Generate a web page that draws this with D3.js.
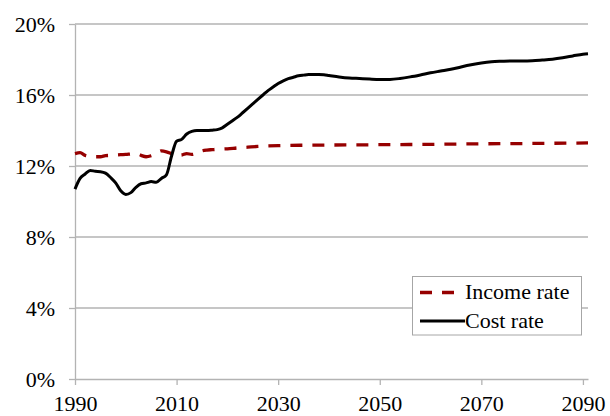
<!DOCTYPE html>
<html>
<head>
<meta charset="utf-8">
<script src="https://cdn.jsdelivr.net/npm/d3@7"></script>
<style>
  html, body { margin: 0; padding: 0; background: #fff; }
  svg { display: block; }
  svg text { font-family: "Liberation Serif", "Times New Roman", Tinos, Times, "Noto Serif", "DejaVu Serif", FreeSerif, serif !important; fill: #000; }
</style>
</head>
<body>
<svg id="chart" width="610" height="416"></svg>
<script>
// ---- Data ----
const costYears = [1990,1991,1992,1993,1994,1995,1996,1997,1998,1999,2000,2001,2002,2003,2004,2005,2006,2007,2008,2009,2010,2011,2012,2013,2014,2015,2016,2017,2018,2019,2020,2021,2022,2023,2024,2025,2026,2027,2028,2029,2030,2031,2032,2033,2034,2035,2036,2037,2038,2039,2040,2042,2044,2046,2048,2050,2052,2054,2056,2058,2060,2062,2064,2066,2068,2070,2072,2074,2076,2078,2080,2082,2084,2086,2088,2090,2091];
const costRate = [10.7,11.3,11.55,11.75,11.7,11.68,11.6,11.35,11.05,10.6,10.4,10.5,10.8,11.0,11.05,11.12,11.08,11.3,11.5,12.55,13.4,13.5,13.8,13.95,14.0,14.0,14.0,14.02,14.05,14.15,14.35,14.55,14.75,15.0,15.25,15.5,15.75,16.0,16.25,16.45,16.65,16.8,16.92,17.0,17.08,17.12,17.15,17.15,17.15,17.14,17.1,17.02,16.96,16.93,16.9,16.88,16.88,16.93,17.02,17.13,17.25,17.35,17.45,17.58,17.7,17.8,17.87,17.9,17.92,17.92,17.93,17.97,18.02,18.1,18.2,18.3,18.33];

const incomeYears = [1990,1991,1992,1993,1994,1995,1996,1997,1998,1999,2000,2001,2002,2003,2004,2005,2006,2007,2008,2009,2010,2011,2012,2013,2014,2015,2016,2017,2018,2020,2022,2024,2026,2028,2030,2035,2040,2050,2060,2070,2080,2091];
const incomeRate = [12.7,12.75,12.6,12.55,12.52,12.52,12.58,12.6,12.62,12.64,12.65,12.68,12.7,12.6,12.52,12.58,12.7,12.85,12.8,12.7,12.6,12.62,12.7,12.65,12.72,12.85,12.9,12.92,12.94,12.97,13.02,13.06,13.1,13.13,13.15,13.17,13.18,13.2,13.22,13.25,13.27,13.3];

const xTicks = [1990,2010,2030,2050,2070,2090];
const yTicks = [0,4,8,12,16,20];
const seriesNames = ["Income rate","Cost rate"];

// ---- Layout ----
const svg = d3.select("#chart");
const mLeft = 75, mRight = 588, mTop = 24, mBottom = 379;
const x = d3.scaleLinear().domain([1990, 2091]).range([mLeft, mRight]);
const y = d3.scaleLinear().domain([0, 20]).range([mBottom, mTop]);
const gridColor = "#b3b3b3";

// gridlines
svg.append("g").selectAll("line").data(yTicks.filter(d => d > 0)).join("line")
  .attr("x1", mLeft).attr("x2", mRight)
  .attr("y1", d => y(d)).attr("y2", d => y(d))
  .attr("stroke", gridColor).attr("stroke-width", 1.3);

// y axis
const yAxis = svg.append("g").attr("transform", `translate(${mLeft},0)`)
  .call(d3.axisLeft(y).tickValues(yTicks).tickSize(6).tickSizeOuter(0).tickFormat(d => d + "%"));
yAxis.attr("font-family", null);
yAxis.select(".domain").attr("stroke", gridColor).attr("stroke-width", 1.3);
yAxis.selectAll(".tick line").attr("stroke", gridColor).attr("stroke-width", 1.3);
yAxis.selectAll(".tick text").attr("x", -20).attr("dy", "0.34em")
  .style("font-size", "22px");

// x axis
const xAxis = svg.append("g").attr("transform", `translate(0,${mBottom})`)
  .call(d3.axisBottom(x).tickValues(xTicks).tickSize(6).tickSizeOuter(0).tickFormat(d3.format("d")));
xAxis.attr("font-family", null);
xAxis.select(".domain").attr("stroke", gridColor).attr("stroke-width", 1.3);
xAxis.selectAll(".tick line").attr("stroke", gridColor).attr("stroke-width", 1.3);
xAxis.selectAll(".tick text").attr("y", 16).attr("dy", "0.71em")
  .style("font-size", "22px");

// lines
const line = d3.line().x(d => x(d[0])).y(d => y(d[1])).curve(d3.curveMonotoneX);
const incomeData = incomeYears.map((yr, i) => [yr, incomeRate[i]]);
const costData = costYears.map((yr, i) => [yr, costRate[i]]);

svg.append("path").datum(incomeData).attr("d", line)
  .attr("fill", "none").attr("stroke", "#960000").attr("stroke-width", 3.3)
  .attr("stroke-dasharray", "12,10");
svg.append("path").datum(costData).attr("d", line)
  .attr("fill", "none").attr("stroke", "#000").attr("stroke-width", 3)
  .attr("stroke-linejoin", "round");

// legend
const lg = svg.append("g");
lg.append("rect").attr("x", 412.5).attr("y", 276.5).attr("width", 169).attr("height", 58.5)
  .attr("fill", "#fff").attr("stroke", "#a6a6a6").attr("stroke-width", 1);
lg.append("line").attr("x1", 420).attr("x2", 462).attr("y1", 292.5).attr("y2", 292.5)
  .attr("stroke", "#960000").attr("stroke-width", 3.3).attr("stroke-dasharray", "12,10");
lg.append("line").attr("x1", 420).attr("x2", 465).attr("y1", 321).attr("y2", 321)
  .attr("stroke", "#000").attr("stroke-width", 3);
lg.selectAll("text").data(seriesNames).join("text")
  .attr("x", 465).attr("y", (d, i) => 299 + i * 28.5)
  .style("font-size", "22px").text(d => d);
</script>
</body>
</html>
